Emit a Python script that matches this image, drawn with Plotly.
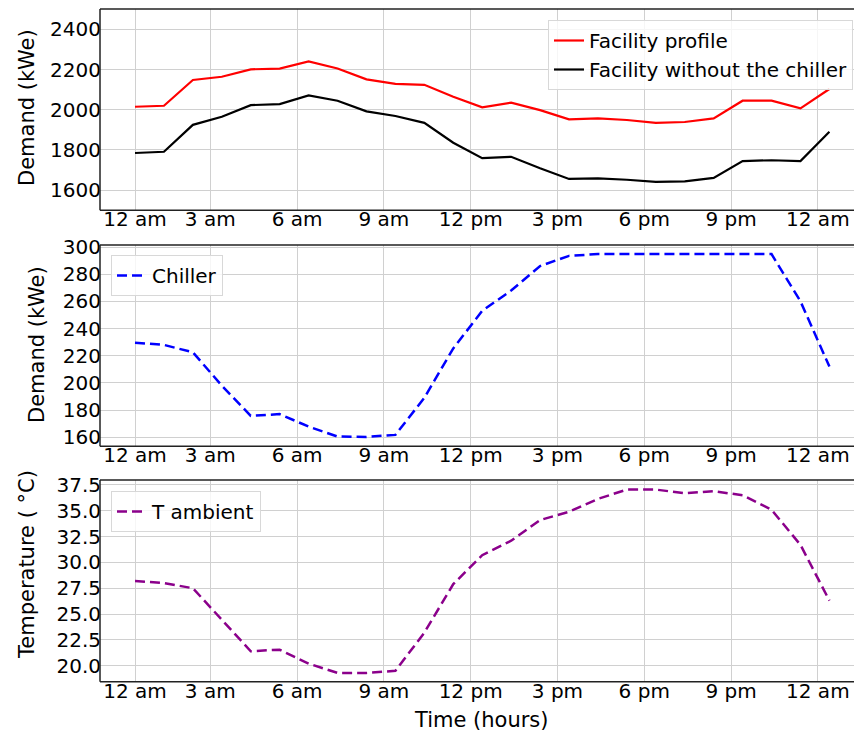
import plotly.graph_objects as go

# Hourly samples over one day
hours = list(range(25))

facility_profile = [2015, 2020, 2148, 2164, 2201, 2205, 2240, 2205, 2151, 2129, 2124,
                    2065, 2012, 2035, 1998, 1952, 1957, 1949, 1935, 1939, 1957, 2045,
                    2045, 2007, 2103]
facility_no_chiller = [1785, 1791, 1925, 1965, 2023, 2028, 2071, 2045, 1992, 1969, 1935,
                       1836, 1759, 1766, 1709, 1656, 1659, 1652, 1641, 1644, 1661, 1745,
                       1749, 1745, 1891]
chiller = [229.6, 228.0, 222.5, 198.0, 175.7, 177.0, 167.8, 160.5, 160.2, 161.7, 189.0,
           225.4, 253.0, 268.0, 286.0, 293.5, 294.8, 294.8, 294.8, 294.8, 294.8, 294.8,
           294.8, 260.0, 212.0]
t_ambient = [28.2, 28.0, 27.5, 24.4, 21.4, 21.55, 20.2, 19.3, 19.3, 19.5, 23.2,
             27.9, 30.7, 32.1, 34.1, 34.9, 36.15, 37.05, 37.05, 36.7, 36.9, 36.5,
             35.1, 31.7, 26.3]

tick_pos = [0, 2.6, 5.6, 8.6, 11.6, 14.6, 17.6, 20.6, 23.6]
tick_text = ["12 am", "3 am", "6 am", "9 am", "12 pm", "3 pm", "6 pm", "9 pm", "12 am"]

W, H = 854, 737
FONT = "DejaVu Sans"

def px_x(p):
    return p / W

def px_y(p):
    return 1 - p / H

fig = go.Figure()

fig.add_trace(go.Scatter(x=hours, y=facility_profile, mode="lines", name="Facility profile",
                         line=dict(color="red", width=2.2), xaxis="x", yaxis="y",
                         legend="legend"))
fig.add_trace(go.Scatter(x=hours, y=facility_no_chiller, mode="lines",
                         name="Facility without the chiller",
                         line=dict(color="black", width=2.2), xaxis="x", yaxis="y",
                         legend="legend"))
fig.add_trace(go.Scatter(x=hours, y=chiller, mode="lines", name="Chiller",
                         line=dict(color="blue", width=2.5, dash="10px,5px"),
                         xaxis="x2", yaxis="y2", legend="legend2"))
fig.add_trace(go.Scatter(x=hours, y=t_ambient, mode="lines", name="T ambient",
                         line=dict(color="#8b008b", width=2.5, dash="10px,5px"),
                         xaxis="x3", yaxis="y3", legend="legend3"))

x_dom = [px_x(100), 1.0]
x_range = [-1.21, 24.85]
panels = [(9, 210.3), (245, 446.3), (480, 681.7)]

axis_common = dict(showgrid=True, gridcolor="#d0d0d0", gridwidth=1, zeroline=False,
                   showline=False, ticks="", automargin=False,
                   tickfont=dict(family=FONT, size=20, color="black"))

layout = dict(width=W, height=H, margin=dict(l=0, r=0, t=0, b=0, autoexpand=False),
              paper_bgcolor="white", plot_bgcolor="white",
              font=dict(family=FONT, size=20, color="black"), showlegend=True)

y_ranges = [[1500, 2501], [153.3, 301.5], [18.45, 37.98]]
y_ticks = [[1600, 1800, 2000, 2200, 2400],
           [160, 180, 200, 220, 240, 260, 280, 300],
           [20.0, 22.5, 25.0, 27.5, 30.0, 32.5, 35.0, 37.5]]

frame = dict(color="#222222", width=1.5)
shapes = []
for i, (top, bot) in enumerate(panels):
    sfx = "" if i == 0 else str(i + 1)
    layout["xaxis" + sfx] = dict(axis_common, domain=x_dom, range=x_range,
                                 anchor="y" + sfx, tickvals=tick_pos, ticktext=tick_text,
                                 ticklabelstandoff=-5)
    ydict = dict(axis_common, domain=[px_y(bot), px_y(top)], range=y_ranges[i],
                 anchor="x" + sfx, tickvals=y_ticks[i], ticklabelstandoff=-2)
    if i == 2:
        ydict["tickformat"] = ".1f"
    layout["yaxis" + sfx] = ydict
    xr, yr = "x" + sfx + " domain", "y" + sfx + " domain"
    # left, bottom and top edges of the panel frame
    shapes.append(dict(type="line", xref=xr, yref=yr, x0=0, x1=0, y0=0, y1=1, line=frame))
    shapes.append(dict(type="line", xref=xr, yref=yr, x0=0, x1=1, y0=0, y1=0, line=frame))
    shapes.append(dict(type="line", xref=xr, yref=yr, x0=0, x1=1, y0=1, y1=1, line=frame))
layout["shapes"] = shapes

legend_common = dict(bgcolor="rgba(255,255,255,0.8)", bordercolor="#d8d8d8", borderwidth=1,
                     font=dict(family=FONT, size=20, color="black"))
layout["legend"] = dict(legend_common, x=px_x(853), y=px_y(20), xanchor="right",
                        yanchor="top")
layout["legend2"] = dict(legend_common, x=px_x(111), y=px_y(255), xanchor="left",
                         yanchor="top")
layout["legend3"] = dict(legend_common, x=px_x(111), y=px_y(491), xanchor="left",
                         yanchor="top")

fig.update_layout(**layout)

ann = dict(xref="paper", yref="paper", showarrow=False,
           font=dict(family=FONT, size=21, color="black"))
fig.add_annotation(ann, text="Demand (kWe)", x=px_x(27), y=px_y(108), textangle=-90,
                   xanchor="center", yanchor="middle")
fig.add_annotation(ann, text="Demand (kWe)", x=px_x(37), y=px_y(345), textangle=-90,
                   xanchor="center", yanchor="middle")
fig.add_annotation(ann, text="Temperature ( °C)", x=px_x(27), y=px_y(565), textangle=-90,
                   xanchor="center", yanchor="middle")
fig.add_annotation(ann, text="Time (hours)", x=px_x(482), y=px_y(720),
                   xanchor="center", yanchor="middle")

fig.write_html("out.html")
